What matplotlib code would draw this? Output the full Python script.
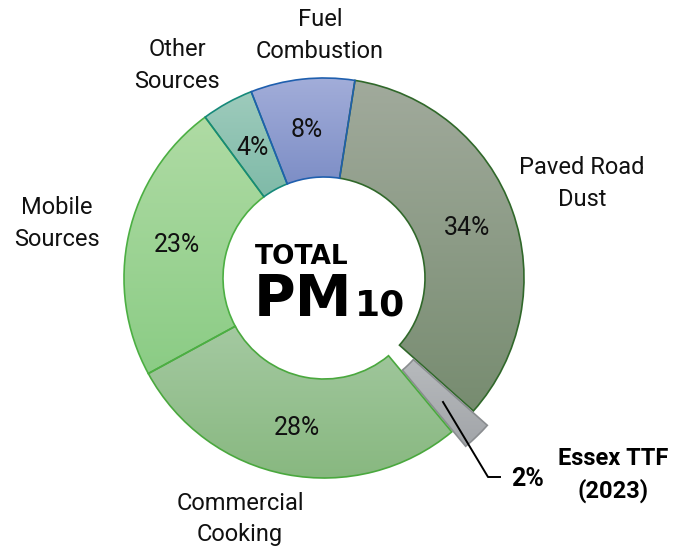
import numpy as np
import matplotlib
matplotlib.use("Agg")
import matplotlib.pyplot as plt
from matplotlib.colors import LinearSegmentedColormap

# Data (clockwise from the top)
sources = ["Paved Road\nDust", "Essex TTF\n(2023)", "Commercial\nCooking",
           "Mobile\nSources", "Other\nSources", "Fuel\nCombustion"]
shares = [34.1, 2.4, 28.1, 22.8, 4.2, 8.4]

# Styling
top_colors = ["#a1aa9c", "#b7babd", "#a4c9a1", "#afdba4", "#9ecbbc", "#a2add9"]
bottom_colors = ["#778c70", "#a2a5a9", "#88b880", "#8bcc85", "#7fbaa8", "#7d8ec6"]
edge_colors = ["#30682a", "#8a8d90", "#4aa83e", "#4caf43", "#16897a", "#1f5fae"]
explode = [0, 20, 0, 0, 0, 0]

W, H = 673, 550
cx, cy = 324, 278      # pixel coords from the top-left
R, ring = 200, 99


def py(y):
    return H - y


plt.rcParams['font.family'] = ['Roboto', 'DejaVu Sans']

fig = plt.figure(figsize=(W / 100, H / 100), dpi=100)
ax = fig.add_axes([0, 0, 1, 1])

wedges, _ = ax.pie(shares, explode=explode, startangle=81.1, counterclock=False,
                   center=(cx, py(cy)), radius=R,
                   wedgeprops=dict(width=ring, linewidth=1.2))

grad = np.linspace(0, 1, 256)[:, None]
for w, c1, c2, ec in zip(wedges, top_colors, bottom_colors, edge_colors):
    w.set_facecolor("none")
    w.set_edgecolor(ec)
    w.set_zorder(2)
    bb = w.get_path().get_extents()
    cmap = LinearSegmentedColormap.from_list("g", [c1, c2])
    im = ax.imshow(grad, cmap=cmap, extent=(bb.x0, bb.x1, bb.y0, bb.y1),
                   origin="upper", aspect="auto", zorder=1)
    im.set_clip_path(w)

ax.set_xlim(0, W)
ax.set_ylim(0, H)
ax.axis("off")

# category labels outside the ring
label_pos = [(582, 183), None, (240, 519), (57, 223), (177, 65), (320, 36)]
for name, pos in zip(sources, label_pos):
    if pos is None:
        continue
    ax.text(pos[0], py(pos[1]), name, ha="center", va="center",
            fontsize=17, linespacing=1.5, color="#111111")

# percentages inside the ring
pct_pos = [(467, 228), None, (297, 428), (177, 245), (253, 148), (307, 130)]
for v, pos in zip(shares, pct_pos):
    if pos is None:
        continue
    ax.text(pos[0], py(pos[1]), f"{round(v)}%", ha="center", va="center",
            fontsize=18, color="#111111")

# Essex TTF callout
ax.plot([443, 488, 500], [py(402), py(477), py(477)], color="black", lw=1.4, zorder=3)
ax.text(528, py(479), f"{round(shares[1])}%", ha="center", va="center",
        fontsize=18, fontweight="bold")
ax.text(613, py(475), sources[1], ha="center", va="center",
        fontsize=17, fontweight="bold", linespacing=1.4)

# centre title
ax.text(255, py(264), "TOTAL", ha="left", va="baseline", fontsize=19,
        fontweight="bold", family="DejaVu Sans")
ax.text(254, py(316), "PM", ha="left", va="baseline", fontsize=41,
        fontweight="bold", family="DejaVu Sans")
ax.text(355, py(316), "10", ha="left", va="baseline", fontsize=26,
        fontweight="bold", family="DejaVu Sans")

fig.savefig("out.png", dpi=100)
